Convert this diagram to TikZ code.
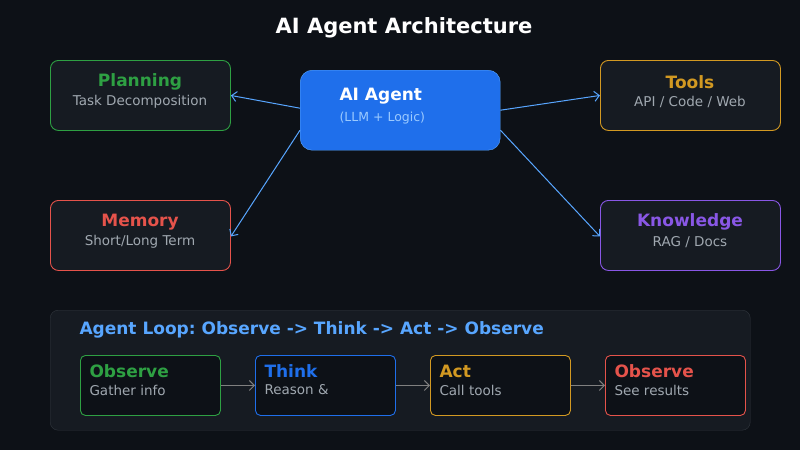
\documentclass[tikz,border=0pt]{standalone}
\usepackage{fontspec}
\setmainfont{DejaVu Sans}
\usetikzlibrary{arrows.meta, positioning}
\definecolor{bgdark}{HTML}{0D1117}
\definecolor{panel}{HTML}{161B22}
\definecolor{panelline}{HTML}{30363D}
\definecolor{agentblue}{HTML}{1F6FEB}
\definecolor{linkblue}{HTML}{58A6FF}
\definecolor{okgreen}{HTML}{2EA043}
\definecolor{warnorange}{HTML}{D29922}
\definecolor{errred}{HTML}{E5534B}
\definecolor{violet}{HTML}{8957E5}
\definecolor{subgray}{HTML}{A0A8B0}
\frenchspacing
\begin{document}
\begin{tikzpicture}[
    x=1pt, y=-1pt,
    module/.style={
        rectangle,
        draw,
        line width=0.9pt,
        rounded corners=8pt,
        fill=panel,
        minimum width=180pt,
        minimum height=70pt,
        anchor=north west
    },
    loopstep/.style={
        rectangle,
        draw,
        line width=0.9pt,
        rounded corners=5pt,
        fill=bgdark,
        minimum width=140pt,
        minimum height=60pt,
        anchor=north west
    },
    heading/.style={
        font=\fontsize{17}{19}\selectfont\bfseries
    },
    caption/.style={
        font=\fontsize{13.5}{15}\selectfont,
        text=subgray
    },
    link/.style={
        ->,
        draw=linkblue,
        line width=1pt,
        >={Straight Barb[length=5pt]}
    },
    flow/.style={
        ->,
        draw=gray,
        line width=1pt,
        >={Straight Barb[length=5pt]}
    }
]
    % background
    \fill[bgdark] (0,0) rectangle (800,450);
    \useasboundingbox (0,0) rectangle (800,450);

    \node (title) [text=white, font=\fontsize{21}{24}\selectfont\bfseries] at (404,28) {AI Agent Architecture};

    % central agent
    \node (agent) [rectangle, draw=linkblue, fill=agentblue, rounded corners=12pt,
        minimum width=200pt, minimum height=80pt, anchor=north west] at (300,70) {};
    \node (agentname) [heading, text=white, anchor=west] at (336,96) {AI Agent};
    \node (agentsub) [caption, text=linkblue!60!white, font=\fontsize{12.5}{14}\selectfont, anchor=west] at (336,118) {(LLM + Logic)};

    % modules
    \node (plan) [module, draw=okgreen] at (50,60) {};
    \node [heading, text=okgreen] at (140,82) {Planning};
    \node [caption] at (140,102) {Task Decomposition};

    \node (tools) [module, draw=warnorange] at (600,60) {};
    \node [heading, text=warnorange] at (690,82) {Tools};
    \node [caption] at (690,102) {API / Code / Web};

    \node (memory) [module, draw=errred] at (50,200) {};
    \node [heading, text=errred] at (140,222) {Memory};
    \node [caption] at (140,242) {Short/Long Term};

    \node (knowledge) [module, draw=violet] at (600,200) {};
    \node [heading, text=violet] at (690,222) {Knowledge};
    \node [caption] at (690,242) {RAG / Docs};

    % links from the agent
    \draw[link] ([yshift=2pt]agent.west) -- (plan.east);
    \draw[link] (agent.east) -- (tools.west);
    \draw[link] ([yshift=-20pt]agent.west) -- ([yshift=-1pt]memory.east);
    \draw[link] ([yshift=-20pt]agent.east) -- ([yshift=-1pt]knowledge.west);

    % agent loop
    \node (loop) [rectangle, draw=panelline, fill=panel, rounded corners=8pt,
        minimum width=700pt, minimum height=120pt, anchor=north west] at (50,310) {};
    \node (looptitle) [heading, text=linkblue, anchor=west] at (76,330) {Agent Loop: Observe -> Think -> Act -> Observe};

    \node (observe) [loopstep, draw=okgreen] at (80,355) {};
    \node [heading, text=okgreen, anchor=west] at (86,371) {Observe};
    \node [caption, anchor=west] at (86,390) {Gather info};

    \node (think) [loopstep, draw=agentblue] at (255,355) {};
    \node [heading, text=agentblue, anchor=west] at (261,371) {Think};
    \node [caption, anchor=west] at (261,390) {Reason \&};

    \node (act) [loopstep, draw=warnorange] at (430,355) {};
    \node [heading, text=warnorange, anchor=west] at (436,371) {Act};
    \node [caption, anchor=west] at (436,390) {Call tools};

    \node (check) [loopstep, draw=errred] at (605,355) {};
    \node [heading, text=errred, anchor=west] at (611,371) {Observe};
    \node [caption, anchor=west] at (611,390) {See results};

    \draw[flow] (observe.east) -- (think.west);
    \draw[flow] (think.east) -- (act.west);
    \draw[flow] (act.east) -- (check.west);
\end{tikzpicture}
\end{document}
